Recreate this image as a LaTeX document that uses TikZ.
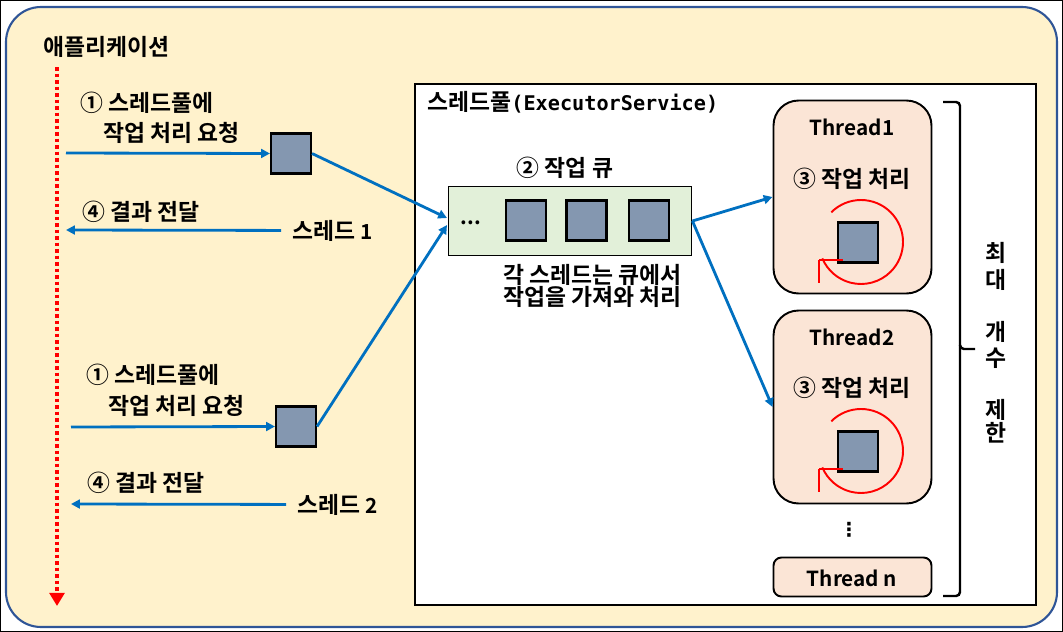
\documentclass[tikz,border=0pt]{standalone}
\usepackage{fontspec}
\setmainfont{Noto Sans CJK KR}[BoldFont={Noto Sans CJK KR Bold}]
\newfontfamily\monob{DejaVu Sans Mono Bold}
\newfontfamily\djv{DejaVu Sans}
\usetikzlibrary{arrows.meta}
\definecolor{bgy}{HTML}{FFF2CC}
\definecolor{frameblue}{HTML}{2F5597}
\definecolor{qgreen}{HTML}{E2F0D9}
\definecolor{tpink}{HTML}{FBE5D6}
\definecolor{sqblue}{HTML}{8497B0}
\definecolor{arrblue}{HTML}{0070C0}
\newcommand{\kfont}{\bfseries\fontsize{13pt}{15pt}\selectfont}
\newcommand{\lfont}{\bfseries\fontsize{11.8pt}{14pt}\selectfont}
\begin{document}
\begin{tikzpicture}[x=0.02cm,y=-0.02cm,
  lbl/.style={font=\kfont, inner sep=0pt, anchor=base west},
  clbl/.style={font=\kfont, inner sep=0pt, anchor=base},
  llbl/.style={font=\lfont, inner sep=0pt, anchor=base},
  task/.style={draw=black, line width=1.2pt, fill=sqblue, minimum size=0.8cm, inner sep=0pt},
  flow/.style={draw=arrblue, line width=1.6pt, -{Triangle[length=5pt,width=5pt]}},
  tbox/.style={draw=black, line width=1.1pt, fill=tpink, rounded corners=0.5cm, minimum width=3.16cm, minimum height=3.86cm, inner sep=0pt},
  spin/.style={draw=red, line width=1.1pt},
  timeline/.style={draw=red, line width=2.5pt, dash pattern=on 2.2pt off 1.5pt, -{Triangle[length=7.5pt,width=8.5pt]}}
]
\useasboundingbox (0,0) rectangle (1063,632);
% frames
\draw[black, line width=0.6pt] (0.5,0.5) rectangle (1062.5,631.5);
\draw[frameblue, line width=1.2pt, fill=bgy, rounded corners=0.7cm] (6,7) rectangle (1057,627);
\draw[black, line width=1pt, fill=white] (415,84) rectangle (1036,605);

% application side
\node[lbl] (app) at (43,55) {애플리케이션};
\coordinate (tl0) at (57,67);
\coordinate (tl1) at (57,606);
\draw[timeline] (tl0) -- (tl1);

\node[lbl] (req1a) at (80,112) {① 스레드풀에};
\node[lbl] (req1b) at (103,141) {작업 처리 요청};
\node[lbl] (res1) at (82,220) {④ 결과 전달};
\node[lbl] (r1) at (292,239) {스레드 {\lfont 1}};

\node[lbl] (req2a) at (86,383) {① 스레드풀에};
\node[lbl] (req2b) at (108,414) {작업 처리 요청};
\node[lbl] (res2) at (87,491) {④ 결과 전달};
\node[lbl] (r2) at (297,513) {스레드 {\lfont 2}};

\node[task] (s1) at (291,153.5) {};
\node[task] (s2) at (296,426.5) {};

% thread pool
\node[lbl] (pool) at (427,111) {스레드풀{\monob\fontsize{11.5pt}{14pt}\selectfont (ExecutorService)}};
\node[clbl] (qlbl) at (565,176) {② 작업 큐};
\node[draw=black, line width=1.1pt, fill=qgreen, minimum width=4.86cm, minimum height=1.38cm, inner sep=0pt] (q) at (570,221) {};
\node[llbl] (qdots) at (471,224) {...};
\node[task] (qs1) at (526,220.5) {};
\node[task] (qs2) at (586.5,220.5) {};
\node[task] (qs3) at (649,220.5) {};
\node[clbl] (qtxt1) at (592.5,283) {각 스레드는 큐에서};
\node[clbl] (qtxt2) at (592.5,305) {작업을 가져와 처리};

% threads
\node[tbox] (t1) at (852.5,197) {};
\node[llbl] (t1name) at (852,135) {Thread1};
\node[clbl] (t1work) at (852,187) {③ 작업 처리};
\node[task] (ts1) at (858,242.5) {};
\draw[spin] (861,242) ++(-135:42) arc[start angle=-135, end angle=157, radius=42];
\draw[spin] (819,260) -- (819,283) (819,260) -- (843,260);

\node[tbox] (t2) at (852.5,407) {};
\node[llbl] (t2name) at (852,345) {Thread2};
\node[clbl] (t2work) at (852,396) {③ 작업 처리};
\node[task] (ts2) at (858,451.5) {};
\draw[spin] (861,451) ++(-135:42) arc[start angle=-135, end angle=157, radius=42];
\draw[spin] (819,469) -- (819,492) (819,469) -- (843,469);

\node[font=\djv\bfseries\fontsize{11pt}{13pt}\selectfont, inner sep=0pt] (vdots) at (849,530) {⋮};
\node[draw=black, line width=1.1pt, fill=tpink, rounded corners=0.16cm, minimum width=3.16cm, minimum height=0.78cm, inner sep=0pt] (tn) at (852.5,577) {};
\node[llbl] (tnname) at (852,586) {Thread n};

% brace and limit text
\draw[black, line width=1.4pt, rounded corners=0.08cm] (943,102) -| (960,349) -- (975,349);
\draw[black, line width=1.4pt, rounded corners=0.08cm] (960,345) |- (943,596);
\node[clbl] (lim1) at (996,261) {최};
\node[clbl] (lim2) at (996,288) {대};
\node[clbl] (lim3) at (996,340) {개};
\node[clbl] (lim4) at (996,366) {수};
\node[clbl] (lim5) at (996,418) {제};
\node[clbl] (lim6) at (996,441) {한};

% connectors
\coordinate (a1) at (66,153);
\coordinate (a2) at (71,427);
\coordinate (b1) at (66,230);
\coordinate (b2) at (71,504);
\coordinate (qin1) at (447,218);
\coordinate (qin2) at (447,225);
\draw[flow] (a1) -- (s1.west);
\draw[flow] (a2) -- (s2.west);
\draw[flow] (s1.east) -- (qin1);
\draw[flow] (s2.east) -- (qin2);
\draw[flow] (q.east) -- (t1.west);
\draw[flow] (q.east) -- (t2.west);
\draw[flow] ([xshift=-0.22cm]r1.west) -- (b1);
\draw[flow] ([xshift=-0.22cm]r2.west) -- (b2);
\end{tikzpicture}
\end{document}
